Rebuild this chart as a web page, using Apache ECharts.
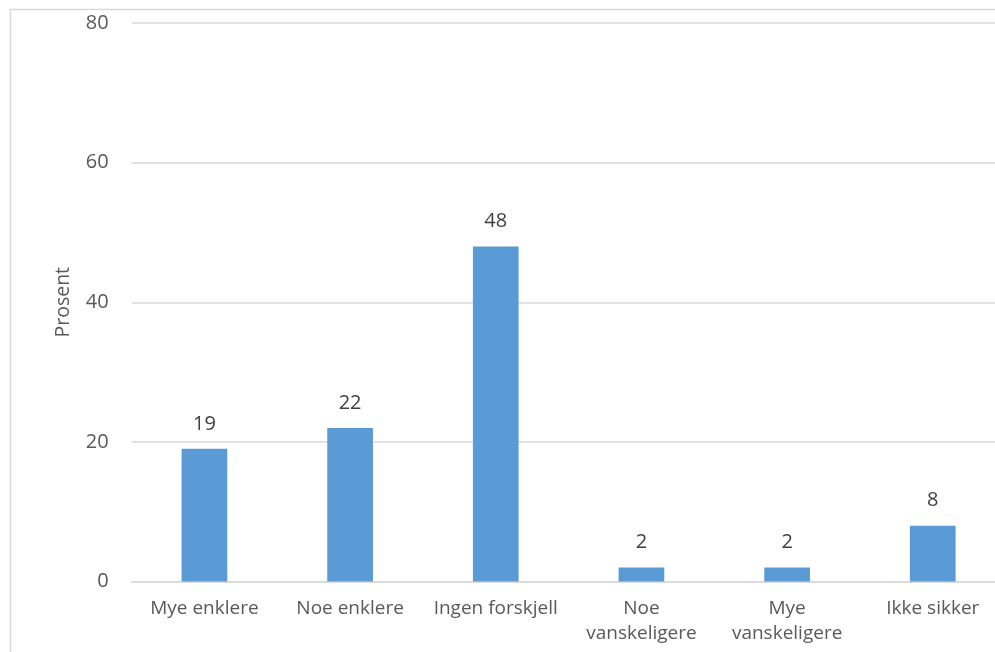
<!DOCTYPE html>
<html>
<head>
<meta charset="utf-8">
<script src="https://cdn.jsdelivr.net/npm/echarts@6/dist/echarts.min.js"></script>
<style>
  html, body { margin: 0; padding: 0; background: #fff; overflow: hidden; }
  #chart { width: 1012px; height: 652px; }
</style>
</head>
<body>
<div id="chart"></div>
<script>
// Answer categories and their shares in percent
const categories = ['Mye enklere', 'Noe enklere', 'Ingen forskjell', 'Noe\nvanskeligere', 'Mye\nvanskeligere', 'Ikke sikker'];
const values = [19, 22, 48, 2, 2, 8];
const yTicks = [0, 20, 40, 60, 80];
const yTitle = 'Prosent';

const font = '"Open Sans", "Noto Sans", sans-serif';
const chart = echarts.init(document.getElementById('chart'), null, { renderer: 'canvas' });

chart.setOption({
  backgroundColor: '#ffffff',
  animation: false,
  graphic: [{
    type: 'rect',
    left: 8, top: 7,
    shape: { width: 1010, height: 670 },
    style: { fill: 'none', stroke: '#d9d9d9', lineWidth: 1.5 },
    silent: true
  }],
  grid: { left: 131.6, top: 23, width: 874, height: 558.5, containLabel: false },
  xAxis: {
    type: 'category',
    data: categories,
    axisLine: { show: true, lineStyle: { color: '#d9d9d9', width: 1.5 } },
    axisTick: { show: false },
    axisLabel: { color: '#595959', fontFamily: font, fontSize: 19, margin: 15, lineHeight: 25, interval: 0 }
  },
  yAxis: {
    type: 'value',
    min: yTicks[0], max: yTicks[yTicks.length - 1], interval: 20,
    name: yTitle,
    nameLocation: 'middle',
    nameGap: 58,
    nameRotate: 90,
    nameTextStyle: { color: '#595959', fontFamily: font, fontSize: 19.5 },
    axisLine: { show: false },
    axisTick: { show: false },
    splitLine: { lineStyle: { color: '#d9d9d9', width: 1.5 } },
    axisLabel: { color: '#595959', fontFamily: font, fontSize: 20, margin: 23 }
  },
  series: [{
    type: 'bar',
    data: values,
    barWidth: 45.7,
    itemStyle: { color: '#5b9bd5' },
    label: { show: true, position: 'top', distance: 15, color: '#404040', fontFamily: font, fontSize: 20 }
  }]
});
</script>
</body>
</html>
